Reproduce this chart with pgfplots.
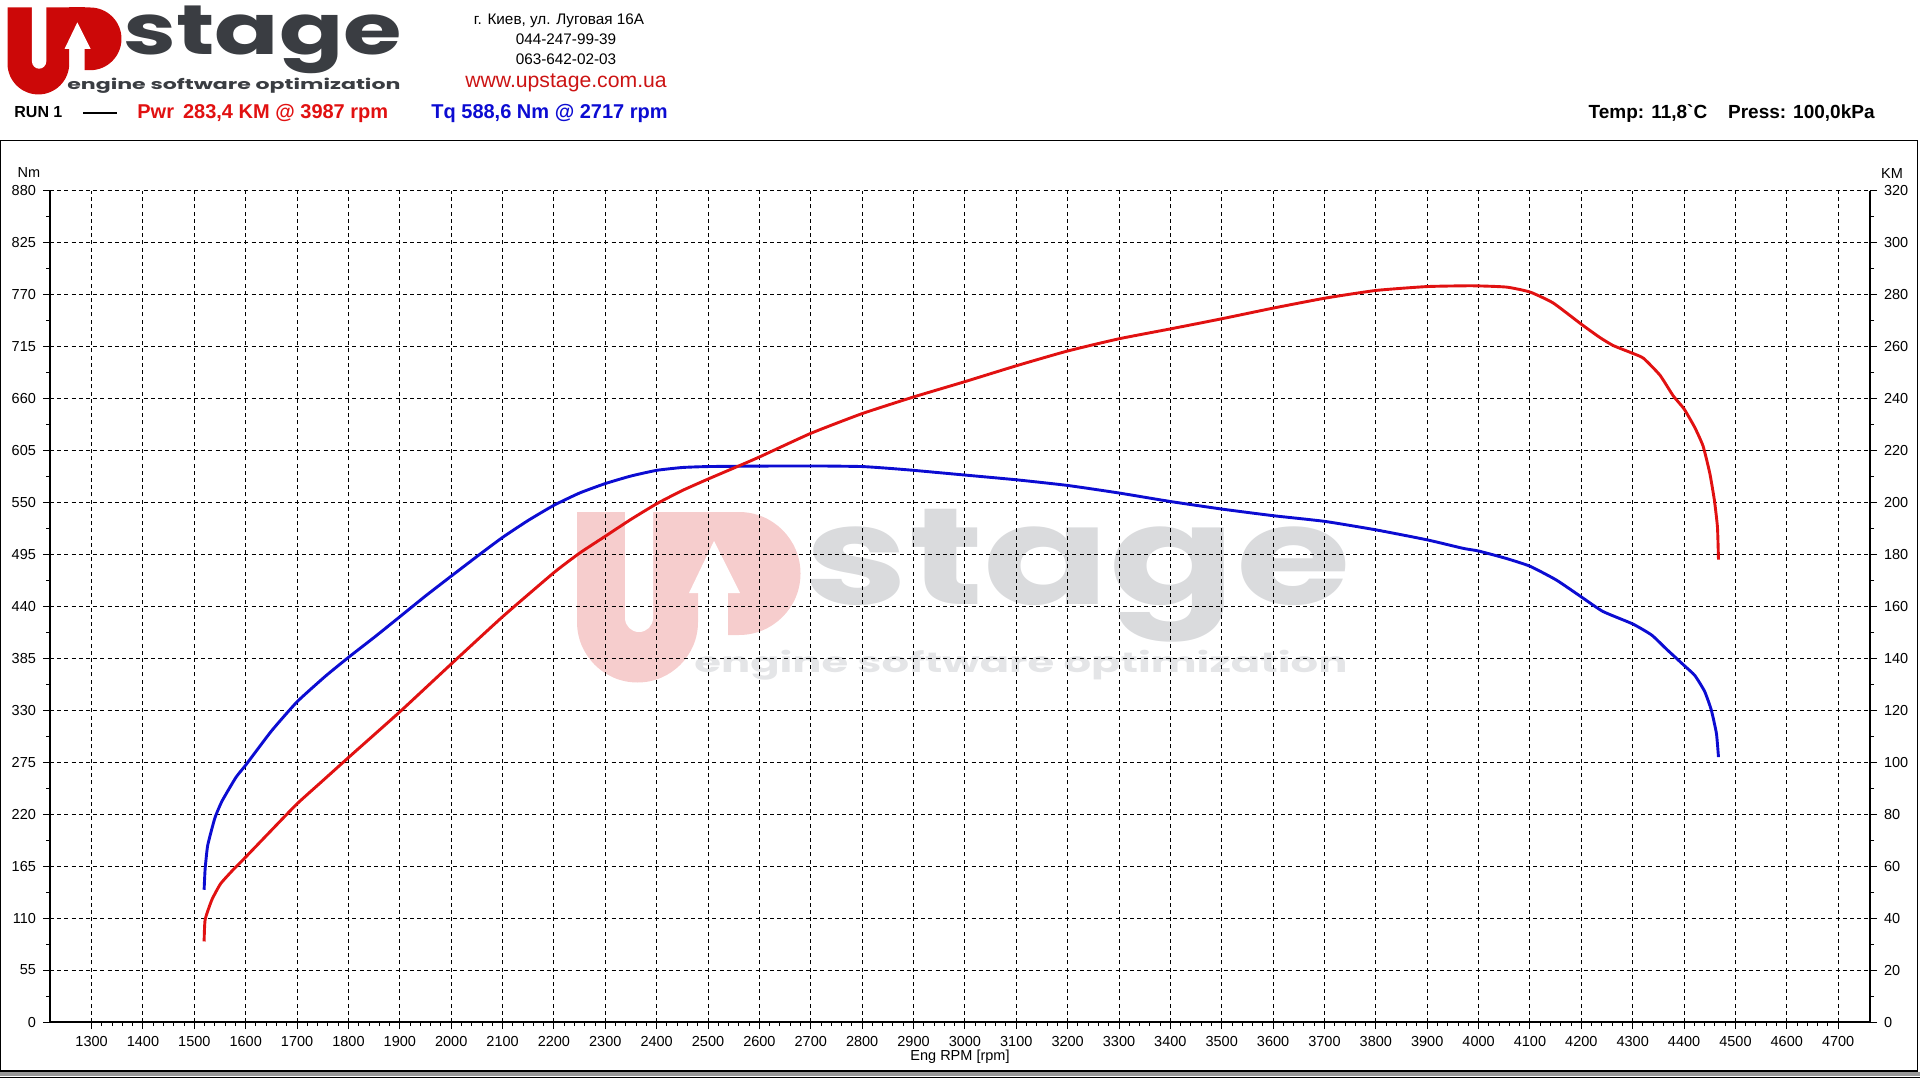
\documentclass[border=0pt]{standalone}
\usepackage{fontspec}
\setmainfont{Liberation Sans}
\newfontfamily\logofont{Poppins}
\usepackage{graphicx}
\usepackage{pgfplots}
\pgfplotsset{compat=1.18}
\definecolor{pwr}{RGB}{225,17,17}
\definecolor{tq}{RGB}{12,12,210}
\definecolor{logored}{RGB}{204,8,8}
\definecolor{logodark}{RGB}{58,61,66}
\definecolor{wmred}{RGB}{246,205,205}
\definecolor{wmgray}{RGB}{218,219,221}
\definecolor{wmtag}{RGB}{228,229,231}
\definecolor{urlred}{RGB}{204,20,20}

\pgfplotstableread{
rpm Nm
1519 140
1521 162
1526 187
1540 216
1554 234
1581 259
1600 272
1650 308
1700 339
1755 366
1800 386
1852 408
1900 429
1950 451
2000 472
2053 494
2100 513
2150 531
2200 547
2250 560
2300 570
2350 578
2400 584
2450 587
2500 588
2600 588.5
2717 588.6
2800 588
2855 586
2900 584
3000 579
3100 574
3200 568
3300 560
3400 551
3500 543
3600 536
3700 530
3800 521
3900 510.4
3970 501.4
4000 498.6
4054 490.7
4100 482.5
4151 468
4200 450
4242 434.6
4300 421.4
4337 409.6
4366 394.6
4400 377.5
4421 366.8
4440 350
4453 330.3
4463 305.4
4467 280.4
}\torque

\pgfplotstableread{
rpm KM
1519 31
1521 39.4
1534 47
1551 53.2
1575 58.5
1600 63.5
1650 73.8
1700 84
1750 92.9
1800 101.8
1900 119.4
2000 137.8
2100 156
2200 173
2250 180.5
2300 187
2350 193.5
2400 199.5
2450 204.6
2500 209
2558 213.9
2600 217.5
2700 226.6
2800 234.2
2900 240.6
3000 246.5
3100 252.6
3200 258.3
3300 263
3400 266.8
3500 270.7
3600 274.8
3700 278.6
3800 281.6
3900 283.1
3987 283.4
4054 282.9
4100 281
4145 276.8
4200 268.6
4236 263.5
4262 260.4
4300 257.4
4321 255.5
4353 249
4379 241
4400 236
4421 228.8
4437 221.7
4450 211.3
4459 200.9
4465 190.5
4467 178
}\power

\newcommand{\uplogo}[3]{%
  \fill[#1] (577,512) -- (577,622) arc[start angle=180,end angle=0,radius=60.5] -- (698,512) -- cycle;
  \fill[#1] (697,512) rectangle (729,593);
  \fill[#1] (728,512) -- (739,512) arc[start angle=-90,end angle=90,radius=61.5] -- (728,635) -- cycle;
  \fill[white] (625,511) -- (625,618) arc[start angle=180,end angle=0,radius=14] -- (653,511) -- cycle;
  \fill[white] (689,593) -- (714,541) -- (740,593) -- cycle;
  \node[anchor=south west,inner sep=0pt,text=#2] at (804,643) {\resizebox*{273pt}{66.5pt}{\logofont\bfseries stage}};
  \node[anchor=south west,inner sep=0pt,text=#3] at (694,681) {\resizebox*{326.5pt}{15pt}{\logofont\bfseries engine software optimization}};
}

\pgfplotsset{
  mystyle/.style={
    at={(25pt,-511pt)}, anchor=south west,
    scale only axis, width=910pt, height=415.65pt,
    xmin=1219, xmax=4762,
    tick align=outside,
    major tick length=3.5pt, minor tick length=2pt,
    every tick/.style={black, line width=0.5pt},
    axis line style={black, line width=0.6pt},
    tick label style={font=\fontsize{7.25}{8}\selectfont},
    /pgf/number format/assume math mode=true,
    /pgf/number format/1000 sep={},
    clip=false,
  }
}

\begin{document}
\begin{tikzpicture}
\path[use as bounding box] (0,0) rectangle (960pt,-540pt);
\begin{scope}[x=0.5pt,y=-0.5pt]
  % watermark
  \uplogo{wmred}{wmgray}{wmtag}
  % top-left logo
  \begin{scope}[shift={(-286.76,-253.63)},scale=0.51,transform shape]
    \uplogo{logored}{logodark}{logodark}
  \end{scope}
  % address
  \node[inner sep=0pt,font=\fontsize{7.65}{9}\selectfont] at (559,21) {г. Киев, ул. Луговая 16А};
  \node[inner sep=0pt,font=\fontsize{7.65}{9}\selectfont] at (566,39) {044-247-99-39};
  \node[inner sep=0pt,font=\fontsize{7.65}{9}\selectfont] at (566,59) {063-642-02-03};
  \node[inner sep=0pt,font=\fontsize{10.6}{12}\selectfont,text=urlred] at (566,83) {www.upstage.com.ua};
  % run line
  \node[anchor=west,inner sep=0pt,font=\bfseries\fontsize{8}{9}\selectfont] at (14,112) {RUN 1};
  \draw[black,line width=1.2pt] (83,113) -- (117,113);
  \node[anchor=west,inner sep=0pt,font=\bfseries\fontsize{10}{11}\selectfont,text=pwr] at (137,113) {Pwr\hspace{0.45em}283,4 KM @ 3987 rpm};
  \node[anchor=west,inner sep=0pt,font=\bfseries\fontsize{10}{11}\selectfont,text=tq] at (431,113) {Tq 588,6 Nm @ 2717 rpm};
  \node[anchor=east,inner sep=0pt,font=\bfseries\fontsize{9.5}{11}\selectfont] at (1875,114) {Temp: 11,8\textasciigrave C\hspace{1.1em}Press: 100,0kPa};
  % frame
  \draw[black,line width=0.7pt] (0.7,140.7) rectangle (1917.3,1071);
  \fill[black!40] (0,1071.5) rectangle (1920,1076.2);
  \draw[black,line width=0.5pt] (0,1077.5) -- (1920,1077.5);
  % axis texts
  \node[inner sep=0pt,font=\fontsize{7.25}{8}\selectfont] at (29,173) {Nm};
  \node[inner sep=0pt,font=\fontsize{7.25}{8}\selectfont] at (1892,174) {KM};
  \node[inner sep=0pt,font=\fontsize{7.25}{8}\selectfont] at (960,1057) {Eng RPM [rpm]};
\end{scope}

\begin{axis}[mystyle,
  ymin=0, ymax=880,
  axis lines*=left,
  xtick={1300,1400,...,4700}, minor x tick num=4,
  ytick={0,55,...,880}, minor y tick num=1,
  grid=major,
  major grid style={black, line width=0.5pt, dash pattern=on 2pt off 1.6pt},
]
\addplot[tq, line width=1.45pt, line join=round, smooth, tension=0.3] table[x=rpm,y=Nm] {\torque};
\end{axis}

\begin{axis}[mystyle,
  ymin=0, ymax=320,
  axis y line*=right, axis x line=none,
  ytick={0,20,...,320}, minor y tick num=1,
]
\addplot[pwr, line width=1.45pt, line join=round, smooth, tension=0.3] table[x=rpm,y=KM] {\power};
\end{axis}
\end{tikzpicture}
\end{document}
